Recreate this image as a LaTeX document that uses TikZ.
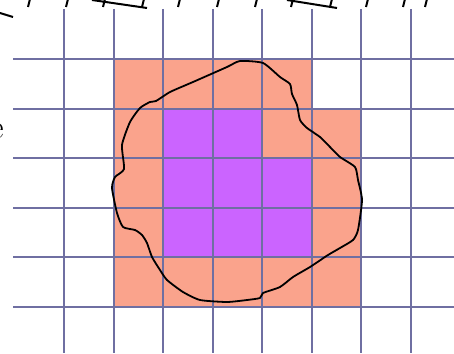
\documentclass[tikz,border=0pt]{standalone}
\usepackage{tikz}
\usetikzlibrary{calc}
\definecolor{gridblue}{HTML}{6F6FA2}
\definecolor{cellsalmon}{HTML}{FAA38C}
\definecolor{cellpurple}{HTML}{CB64FF}
\tikzset{
gridline/.style={draw=gridblue,line width=2pt},
outercell/.style={fill=cellsalmon},
innercell/.style={fill=cellpurple},
blobline/.style={draw=black,line width=1.8pt,line join=round},
topmark/.style={draw=black,line width=2pt},
cutlabel/.style={anchor=east,inner sep=0pt,font=\fontsize{34}{40}\selectfont}
}
\newcommand{\cellw}{49.5}
\begin{document}
\begin{tikzpicture}[
x=1pt,
y=-1pt
]
\useasboundingbox (0,0) rectangle (454,353);
\clip (0,0) rectangle (454,353);
% cells, column c and row r counted from the line at (113.5,59)
\foreach \c/\r in {0/0,1/0,2/0,3/0,
  0/1,3/1,4/1, 0/2,4/2, 0/3,4/3, 0/4,1/4,2/4,3/4,4/4}
  \path[outercell] (113.5+\cellw*\c,59+\cellw*\r) rectangle ++(\cellw,\cellw);
\foreach \c/\r in {1/1,2/1, 1/2,2/2,3/2, 1/3,2/3,3/3}
  \path[innercell] (113.5+\cellw*\c,59+\cellw*\r) rectangle ++(\cellw,\cellw);
% grid
\foreach \k in {0,...,7}
  \draw[gridline] (64+\cellw*\k,9) -- (64+\cellw*\k,353);
\foreach \m in {0,...,5}
  \draw[gridline] (13,59+\cellw*\m) -- (454,59+\cellw*\m);
% outline
\draw[blobline] plot[smooth cycle,tension=0.35] coordinates {
  (240,61) (263,63) (280,77) (290,84) (292,94) (297,105) (300,120)
  (307,128) (320,137) (330,147) (340,157) (355,167) (358,180)
  (362,200) (358,230) (353,240) (340,248) (328,255) (310,267)
  (293,277) (280,287) (263,293) (260,298) (247,300) (227,302)
  (200,300) (183,292) (167,280) (160,270) (152,257) (147,243)
  (142,235) (135,230) (123,227) (117,213) (112,188) (115,177)
  (124,169) (122,145) (130,122) (140,108) (150,102) (156,101)
  (170,92) (193,82) (227,67)};
% cut-off marks along the top edge
\draw[topmark] (0,13) -- (13,17);
\draw[topmark] (92,0) -- (147,8);
\draw[topmark] (287,0) -- (337,8);
\foreach \t in {30,68,105,144,180,219,257,293,332,368,405,427}
  \draw[topmark] (\t,-1) -- (\t-2,7);
% cut-off label at the left edge
\node[cutlabel] (leftword) at (4,131) {e};
\end{tikzpicture}
\end{document}
